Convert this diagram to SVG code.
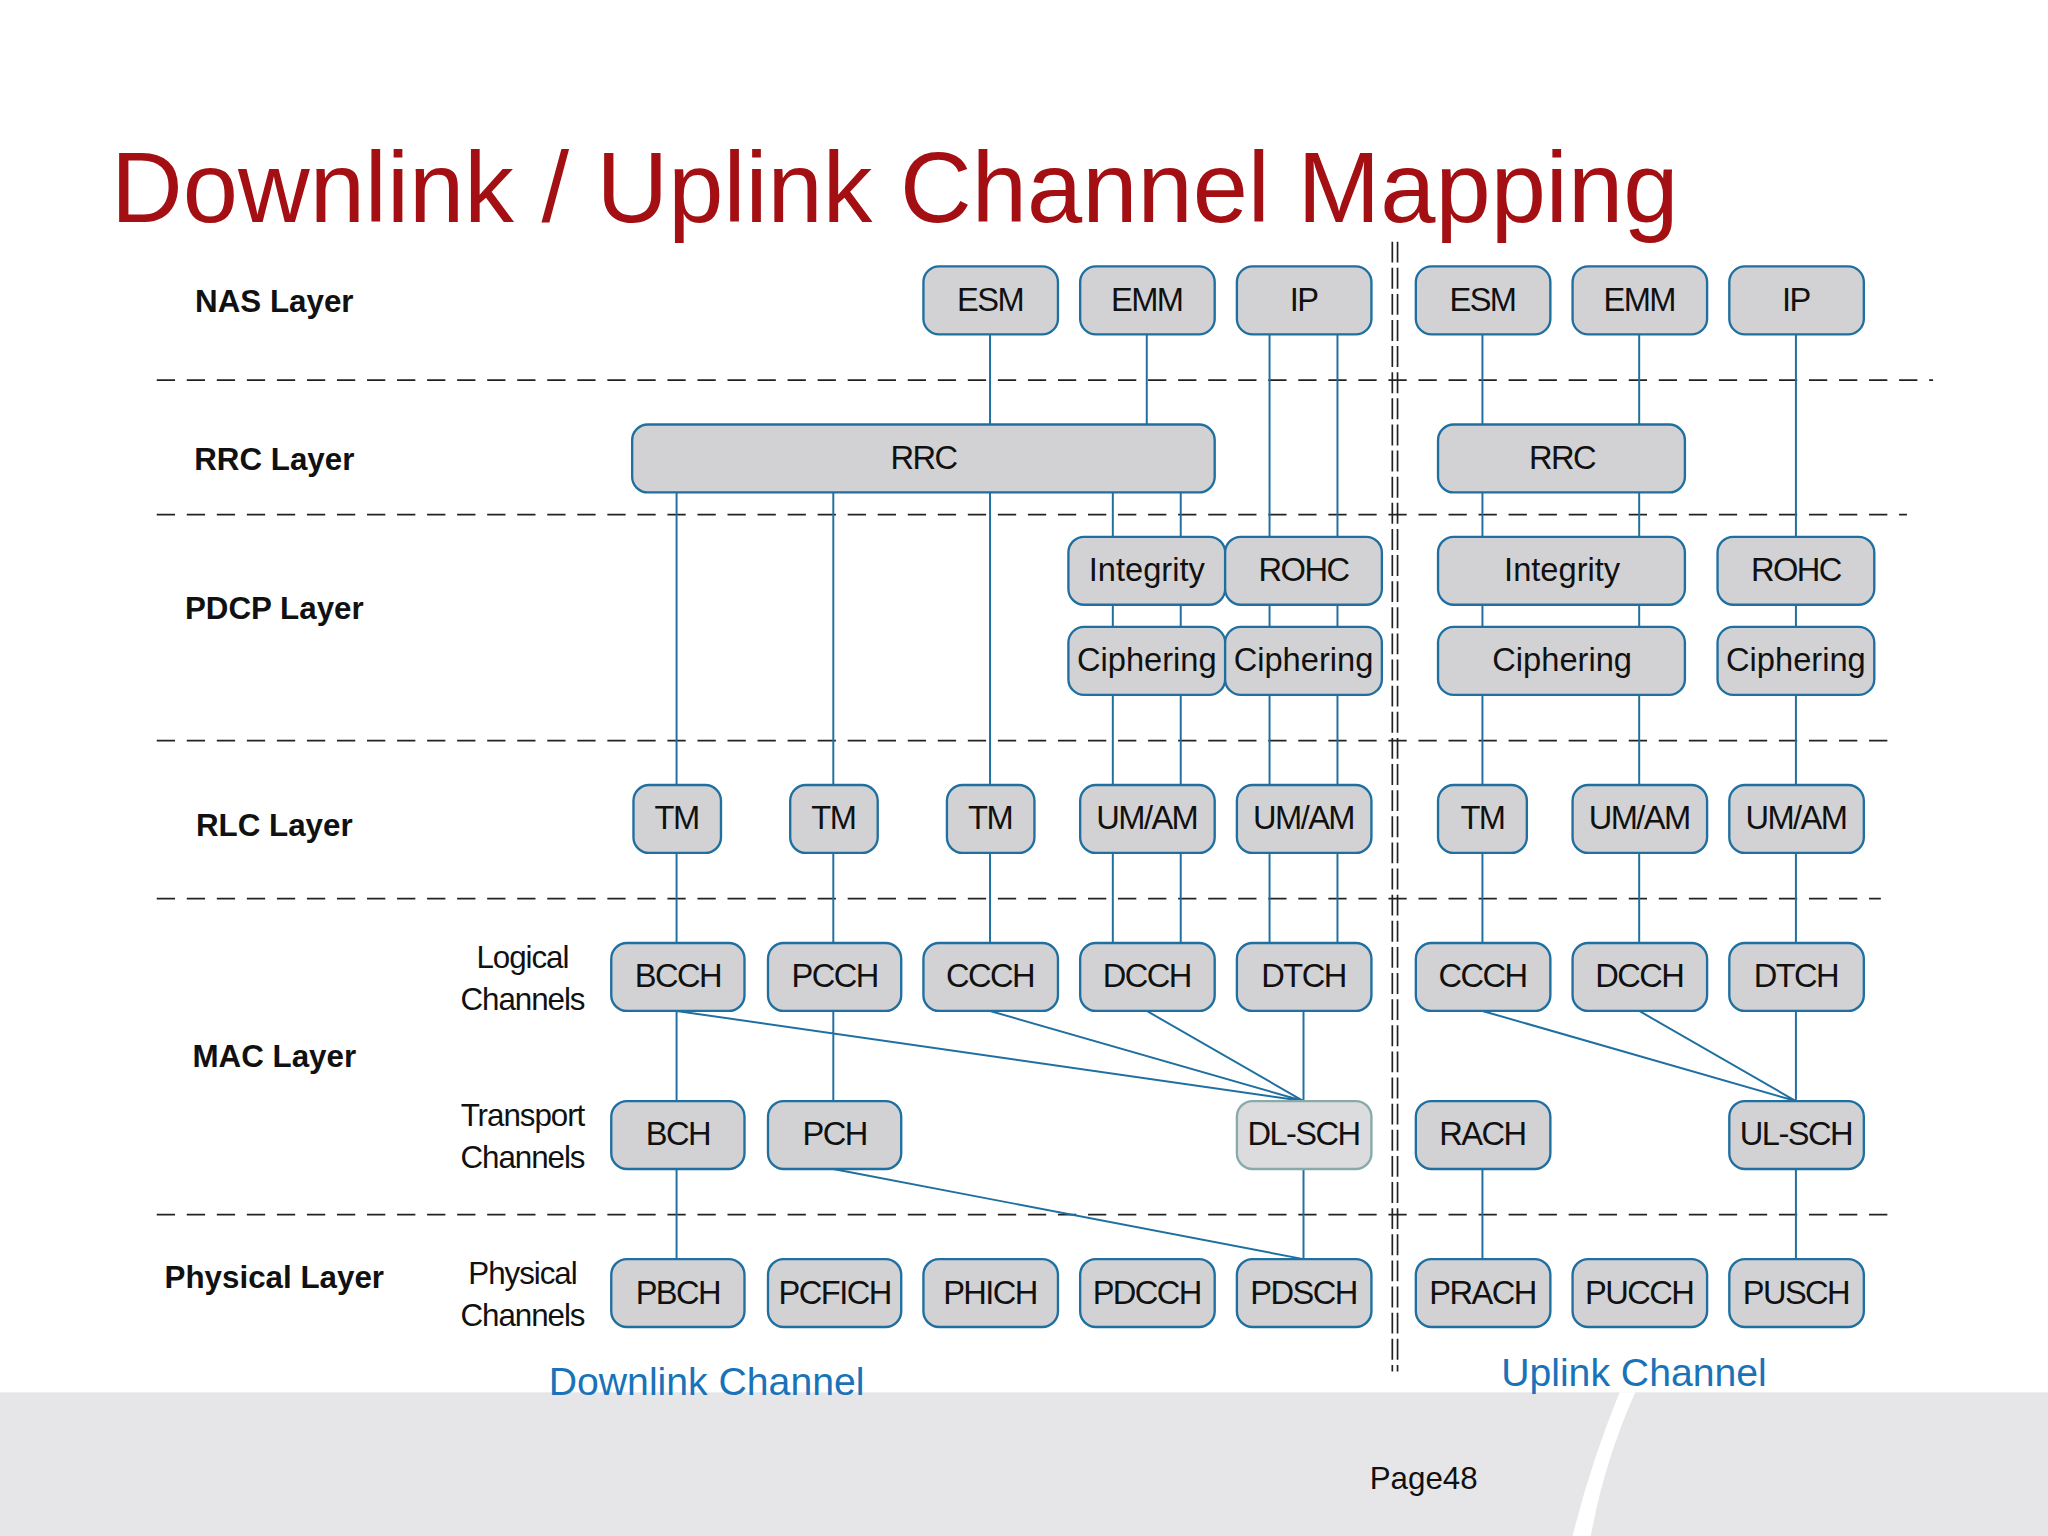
<svg xmlns="http://www.w3.org/2000/svg" width="2048" height="1536" viewBox="0 0 2048 1536">
<style>
.b{fill:#d2d2d4;stroke:#1f6fa0;stroke-width:1.8}
.t{font-family:"Liberation Sans",Arial,sans-serif;font-size:25px;text-anchor:middle;fill:#111;letter-spacing:-1.2px}
.l{font-family:"Liberation Sans",Arial,sans-serif;font-size:24px;font-weight:bold;text-anchor:middle;fill:#111}
.s{font-family:"Liberation Sans",Arial,sans-serif;font-size:24px;text-anchor:middle;fill:#111;letter-spacing:-0.8px}
.d{stroke:#222;stroke-width:1.3;stroke-dasharray:14 9;fill:none}
.c{stroke:#1f6fa0;stroke-width:1.5;fill:none}
.bl{font-family:"Liberation Sans",Arial,sans-serif;font-size:30px;text-anchor:middle;fill:#1a73b8}
</style>
<rect width="2048" height="1536" fill="#fff"/>
<g transform="scale(1.30612)">
<rect x="0" y="1066" width="1568" height="110" fill="#e6e6e8"/>
<path d="M1240,1066 L1252,1066 Q1228,1120 1218,1176 L1204,1176 Q1218,1120 1240,1066Z" fill="#fff"/>
<text x="1090" y="1140" font-family="Liberation Sans,Arial,sans-serif" font-size="24" text-anchor="middle" fill="#111">Page48</text>
<text x="85" y="170" font-family="Liberation Sans,Arial,sans-serif" font-size="76" fill="#a30f12" textLength="1200" lengthAdjust="spacingAndGlyphs">Downlink / Uplink Channel Mapping</text>
<g id="layers">
<text class="l" x="210" y="239">NAS Layer</text>
<text class="l" x="210" y="360">RRC Layer</text>
<text class="l" x="210" y="474">PDCP Layer</text>
<text class="l" x="210" y="640">RLC Layer</text>
<text class="l" x="210" y="817">MAC Layer</text>
<text class="l" x="210" y="986">Physical Layer</text>
<text class="s" x="400" y="741">Logical</text><text class="s" x="400" y="773">Channels</text>
<text class="s" x="400" y="862">Transport</text><text class="s" x="400" y="894">Channels</text>
<text class="s" x="400" y="983">Physical</text><text class="s" x="400" y="1015">Channels</text>
<text class="bl" x="541" y="1068">Downlink Channel</text>
<text class="bl" x="1251" y="1061">Uplink Channel</text>
</g>
<g id="dividers">
<line class="d" x1="120" y1="291" x2="1480" y2="291"/>
<line class="d" x1="120" y1="394" x2="1460" y2="394"/>
<line class="d" x1="120" y1="567" x2="1450" y2="567"/>
<line class="d" x1="120" y1="688" x2="1440" y2="688"/>
<line class="d" x1="120" y1="930" x2="1450" y2="930"/>
<line x1="1066" y1="185" x2="1066" y2="1050" stroke="#222" stroke-width="1.3" stroke-dasharray="16 4"/>
<line x1="1070" y1="185" x2="1070" y2="1050" stroke="#222" stroke-width="1.3" stroke-dasharray="16 4"/>
</g>
<g id="connectors">
<path class="c" d="M758,256V325M878,256V325M972,256V411M1024,256V411M518,377V601M638,377V601M758,377V601M852,377V411M904,377V411M852,463V480M904,463V480M972,463V480M1024,463V480M852,532V601M904,532V601M972,532V601M1024,532V601M518,653V722M638,653V722M758,653V722M852,653V722M904,653V722M972,653V722M1024,653V722M518,774V843M638,774V843M518,774L998,843M758,774L998,843M878,774L998,843M998,774V843M518,895V964M638,895L998,964M998,895V964"/>
<path class="c" d="M1135,256V325M1255,256V325M1375,256V411M1135,377V411M1255,377V411M1135,463V480M1255,463V480M1375,463V480M1135,532V601M1255,532V601M1375,532V601M1135,653V722M1255,653V722M1375,653V722M1135,774L1375,843M1255,774L1375,843M1375,774V843M1135,895V964M1375,895V964"/>
</g>
<g id="n-esm"><rect class="b" x="707" y="204" width="103" height="52" rx="12"/><text class="t" x="758" y="238">ESM</text></g>
<g id="n-emm"><rect class="b" x="827" y="204" width="103" height="52" rx="12"/><text class="t" x="878" y="238">EMM</text></g>
<g id="n-ip"><rect class="b" x="947" y="204" width="103" height="52" rx="12"/><text class="t" x="998" y="238">IP</text></g>
<g id="n-esm2"><rect class="b" x="1084" y="204" width="103" height="52" rx="12"/><text class="t" x="1135" y="238">ESM</text></g>
<g id="n-emm2"><rect class="b" x="1204" y="204" width="103" height="52" rx="12"/><text class="t" x="1255" y="238">EMM</text></g>
<g id="n-ip2"><rect class="b" x="1324" y="204" width="103" height="52" rx="12"/><text class="t" x="1375" y="238">IP</text></g>
<g id="n-rrc"><rect class="b" x="484" y="325" width="446" height="52" rx="12"/><text class="t" x="707" y="359">RRC</text></g>
<g id="n-rrc2"><rect class="b" x="1101" y="325" width="189" height="52" rx="12"/><text class="t" x="1196" y="359">RRC</text></g>
<g id="n-int"><rect class="b" x="818" y="411" width="120" height="52" rx="12"/><text class="t" x="878" y="445" style="letter-spacing:0">Integrity</text></g>
<g id="n-rohc"><rect class="b" x="938" y="411" width="120" height="52" rx="12"/><text class="t" x="998" y="445">ROHC</text></g>
<g id="n-cip"><rect class="b" x="818" y="480" width="120" height="52" rx="12"/><text class="t" x="878" y="514" style="letter-spacing:0">Ciphering</text></g>
<g id="n-cip2"><rect class="b" x="938" y="480" width="120" height="52" rx="12"/><text class="t" x="998" y="514" style="letter-spacing:0">Ciphering</text></g>
<g id="n-int3"><rect class="b" x="1101" y="411" width="189" height="52" rx="12"/><text class="t" x="1196" y="445" style="letter-spacing:0">Integrity</text></g>
<g id="n-rohc3"><rect class="b" x="1315" y="411" width="120" height="52" rx="12"/><text class="t" x="1375" y="445">ROHC</text></g>
<g id="n-cip3"><rect class="b" x="1101" y="480" width="189" height="52" rx="12"/><text class="t" x="1196" y="514" style="letter-spacing:0">Ciphering</text></g>
<g id="n-cip4"><rect class="b" x="1315" y="480" width="120" height="52" rx="12"/><text class="t" x="1375" y="514" style="letter-spacing:0">Ciphering</text></g>
<g id="n-tm1"><rect class="b" x="485" y="601" width="67" height="52" rx="12"/><text class="t" x="518" y="635">TM</text></g>
<g id="n-tm2"><rect class="b" x="605" y="601" width="67" height="52" rx="12"/><text class="t" x="638" y="635">TM</text></g>
<g id="n-tm3"><rect class="b" x="725" y="601" width="67" height="52" rx="12"/><text class="t" x="758" y="635">TM</text></g>
<g id="n-um1"><rect class="b" x="827" y="601" width="103" height="52" rx="12"/><text class="t" x="878" y="635">UM/AM</text></g>
<g id="n-um2"><rect class="b" x="947" y="601" width="103" height="52" rx="12"/><text class="t" x="998" y="635">UM/AM</text></g>
<g id="n-tm4"><rect class="b" x="1101" y="601" width="68" height="52" rx="12"/><text class="t" x="1135" y="635">TM</text></g>
<g id="n-um3"><rect class="b" x="1204" y="601" width="103" height="52" rx="12"/><text class="t" x="1255" y="635">UM/AM</text></g>
<g id="n-um4"><rect class="b" x="1324" y="601" width="103" height="52" rx="12"/><text class="t" x="1375" y="635">UM/AM</text></g>
<g id="n-bcch"><rect class="b" x="468" y="722" width="102" height="52" rx="12"/><text class="t" x="519" y="756">BCCH</text></g>
<g id="n-pcch"><rect class="b" x="588" y="722" width="102" height="52" rx="12"/><text class="t" x="639" y="756">PCCH</text></g>
<g id="n-ccch"><rect class="b" x="707" y="722" width="103" height="52" rx="12"/><text class="t" x="758" y="756">CCCH</text></g>
<g id="n-dcch"><rect class="b" x="827" y="722" width="103" height="52" rx="12"/><text class="t" x="878" y="756">DCCH</text></g>
<g id="n-dtch"><rect class="b" x="947" y="722" width="103" height="52" rx="12"/><text class="t" x="998" y="756">DTCH</text></g>
<g id="n-ccch2"><rect class="b" x="1084" y="722" width="103" height="52" rx="12"/><text class="t" x="1135" y="756">CCCH</text></g>
<g id="n-dcch2"><rect class="b" x="1204" y="722" width="103" height="52" rx="12"/><text class="t" x="1255" y="756">DCCH</text></g>
<g id="n-dtch2"><rect class="b" x="1324" y="722" width="103" height="52" rx="12"/><text class="t" x="1375" y="756">DTCH</text></g>
<g id="n-bch"><rect class="b" x="468" y="843" width="102" height="52" rx="12"/><text class="t" x="519" y="877">BCH</text></g>
<g id="n-pch"><rect class="b" x="588" y="843" width="102" height="52" rx="12"/><text class="t" x="639" y="877">PCH</text></g>
<g id="n-dlsch"><rect class="b" x="947" y="843" width="103" height="52" rx="12" style="fill:#dcdcde;stroke:#8aa"/><text class="t" x="998" y="877">DL-SCH</text></g>
<g id="n-rach"><rect class="b" x="1084" y="843" width="103" height="52" rx="12"/><text class="t" x="1135" y="877">RACH</text></g>
<g id="n-ulsch"><rect class="b" x="1324" y="843" width="103" height="52" rx="12"/><text class="t" x="1375" y="877">UL-SCH</text></g>
<g id="n-pbch"><rect class="b" x="468" y="964" width="102" height="52" rx="12"/><text class="t" x="519" y="998">PBCH</text></g>
<g id="n-pcfich"><rect class="b" x="588" y="964" width="102" height="52" rx="12"/><text class="t" x="639" y="998">PCFICH</text></g>
<g id="n-phich"><rect class="b" x="707" y="964" width="103" height="52" rx="12"/><text class="t" x="758" y="998">PHICH</text></g>
<g id="n-pdcch"><rect class="b" x="827" y="964" width="103" height="52" rx="12"/><text class="t" x="878" y="998">PDCCH</text></g>
<g id="n-pdsch"><rect class="b" x="947" y="964" width="103" height="52" rx="12"/><text class="t" x="998" y="998">PDSCH</text></g>
<g id="n-prach"><rect class="b" x="1084" y="964" width="103" height="52" rx="12"/><text class="t" x="1135" y="998">PRACH</text></g>
<g id="n-pucch"><rect class="b" x="1204" y="964" width="103" height="52" rx="12"/><text class="t" x="1255" y="998">PUCCH</text></g>
<g id="n-pusch"><rect class="b" x="1324" y="964" width="103" height="52" rx="12"/><text class="t" x="1375" y="998">PUSCH</text></g>
</g>
</svg>
